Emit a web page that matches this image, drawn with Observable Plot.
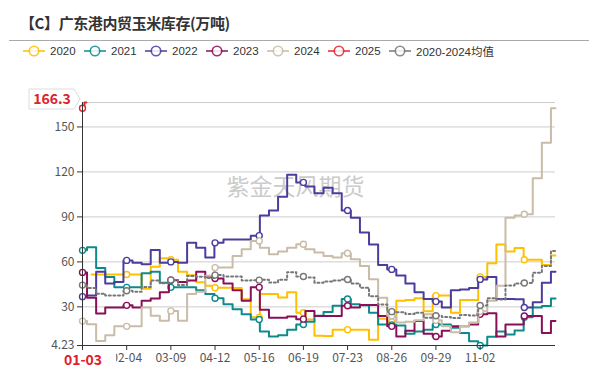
<!DOCTYPE html>
<html><head><meta charset="utf-8">
<script src="https://cdn.jsdelivr.net/npm/d3@7"></script>
<script src="https://cdn.jsdelivr.net/npm/@observablehq/plot@0.6"></script>
<style>
body{margin:0;background:#fff;}
#wrap{position:relative;width:589px;height:370px;overflow:hidden;font-family:"Microsoft YaHei","Noto Sans CJK SC","Noto Sans",sans-serif;}
#title{position:absolute;left:20px;top:12px;font-size:15px;font-weight:700;color:#333;letter-spacing:-0.4px;white-space:nowrap;line-height:22px;}
#rule{position:absolute;left:9px;top:40px;width:580px;height:1px;background:#aaa;}
.item{position:absolute;top:43px;height:16px;display:flex;align-items:center;font-size:11.5px;color:#333;white-space:nowrap;font-family:"Liberation Sans","Noto Sans CJK SC",sans-serif;}
.item svg{margin-right:5px;}
#chart{position:absolute;left:0;top:62px;}
</style></head>
<body><div id="wrap"><div id="title">【C】广东港内贸玉米库存(万吨)</div><div id="rule"></div><div id="legend"></div><div id="chart"></div></div>
<script>
const seriesNames = ["2020","2021","2022","2023","2024","2025","2020-2024均值"];
const seriesColors = ["#FFC000","#0F8A8C","#4B3D9D","#8A0F58","#C9BCA8","#E2262C","#777777"];
const xTickDays = [0,34,68,102,136,170,204,238,272,306];
const xTickLabels = ["01-03","02-04","03-09","04-12","05-16","06-19","07-23","08-26","09-29","11-02"];
const symbolDays = [0,34,68,102,136,170,204,238,272,306,340];
const yTicks = [4.23,30,60,90,120,150];
const yMin = 4.23, yMax = 166.3;
const weekDays = 7;

const v2020 = [null,51.6,51.6,51.6,51.6,51.6,51.6,42,56.8,62.5,61.4,53.4,51.1,46.4,44,42.7,42.7,42.5,35,23,38.6,38.6,36.3,39.8,26.1,21.6,10.7,10.5,14.8,14.8,14.8,14.8,8,22,20,34,34.5,35.7,27,37.5,37.5,26.1,34.5,34.5,50,59.1,71.6,67,69.3,61.4,61.4,58,64.3];
const v2021 = [67.7,69.7,56,50,43,43,43,52.5,53.5,46,43,43,43,41,38.6,35.7,31.8,28.4,25,21.6,13.6,10.2,11,14.8,18.2,20,24,26.6,30.7,35.2,31.8,31,26,18.2,18,17.5,12,13.5,14.8,18.2,18.2,16,12.5,7,4.23,10,13.6,11.5,14.3,23,29.5,30.5,35.5];
const v2022 = [36.8,37.5,53.4,45.5,46.5,61,59.5,58.5,68,59.5,60,59.5,72.7,69.5,63,72.7,75,75,75,77.5,90.9,94.3,103.4,118.1,113,110.2,105.7,109.5,105.7,94.3,89.5,79.6,71.6,58,55,51,45.5,39.8,35.2,33.5,29.6,41,41.5,42.5,48.3,50,35.2,35.2,35,29.6,33,46,53.4];
const v2023 = [53,36,25.5,29.5,29.5,31,29.5,34,35.5,39.8,47.7,46.5,47.5,53.4,50,48.9,45.5,41,34,43,28,22.7,22.7,23.5,21.8,27.3,23.9,23.9,23.9,30.7,29.5,31.2,31.2,23.9,17,10.2,14,20.5,12,10.2,14,17,17,18.2,25,25.7,10.2,18.2,18.2,23.9,23.9,12.5,20.5];
const v2024 = [20.5,18.4,7.3,11.1,17,17,17,29.5,24,20.7,27.3,20.7,38.5,40,50.7,56.2,56.2,64,68.5,74,69.5,65.1,66.9,69.5,71.8,68.5,66.2,64,62.9,65.8,61.8,57.3,48.4,36,24,19.5,20,21,25,21,17,13,17.3,19.5,27,34,44,89.5,91,91.8,115.8,139.5,162.5];
const v2025Days = [0,3];
const v2025 = [162.5,166.3];
const vAvg = [44.5,42.6,38.8,37.5,37.5,40.7,40.1,43.3,47.6,45.7,47.9,44.6,50.6,50.1,49.3,51.2,50.2,50.2,47.5,47.8,48.1,46.2,48.1,53.1,50.2,49.5,46.1,46.9,47.6,48.2,45.5,42.8,37.0,31.6,26.8,26.4,25.2,26.1,22.8,24.1,23.3,22.6,24.6,24.3,30.9,35.8,34.9,44.3,45.6,45.9,52.7,57.3,67.2];

// legend
const legend = document.getElementById("legend");
seriesNames.forEach((n,i)=>{
  const it = document.createElement("div");
  it.className = "item";
  it.style.left = (23 + 61*i) + "px";
  it.innerHTML = `<svg width="22" height="14"><line x1="0" x2="22" y1="7" y2="7" stroke="${seriesColors[i]}" stroke-width="2" opacity="0.75"/><circle cx="11" cy="7" r="4.7" fill="#fff" stroke="${seriesColors[i]}" stroke-width="1.6" opacity="0.85"/></svg><span>${n}</span>`;
  legend.appendChild(it);
});

const weekly = arr => arr.map((v,i)=>({day:i*weekDays, value:v}));
const series = [
  {data: weekly(v2020), vals: v2020},
  {data: weekly(v2021), vals: v2021},
  {data: weekly(v2022), vals: v2022},
  {data: weekly(v2023), vals: v2023},
  {data: weekly(v2024), vals: v2024},
  {data: v2025Days.map((d,i)=>({day:d, value:v2025[i]})), vals: null},
  {data: weekly(vAvg), vals: vAvg}
];

const marks = [
  Plot.ruleY([30,60,90,120,150,yMax], {stroke:"#cccccc", strokeWidth:1}),
  Plot.text(["紫金天风期货"], {text:d=>d, frameAnchor:"top-left", dx:213, dy:76, fill:"#cbcbcb", fontSize:23, textAnchor:"middle"})
];
series.forEach((s,i)=>{
  const isAvg = i === 6;
  marks.push(Plot.line(s.data, {x:"day", y:"value", stroke:seriesColors[i], strokeWidth:2, curve:"step",
    strokeDasharray: isAvg ? "2,2.6" : null}));
  let pts;
  if (s.vals) {
    pts = symbolDays.map(d=>({day:d, value:s.vals[Math.round(d/weekDays)]})).filter(p=>p.value!=null);
  } else {
    pts = [s.data[0]];
  }
  marks.push(Plot.dot(pts, {x:"day", y:"value", r:3, fill:"#fff", stroke:seriesColors[i], strokeWidth:1.4}));
});
marks.push(
  Plot.ruleX([0], {stroke:"#333", strokeWidth:1}),
  Plot.ruleY([yMin], {stroke:"#333", strokeWidth:1}),
  Plot.axisX({ticks:xTickDays, tickSize:5, tickPadding:3, tickFormat:d=> d===0 ? "" : xTickLabels[xTickDays.indexOf(d)], stroke:"#333", fill:"#555", fontSize:12}),
  Plot.axisY({ticks:yTicks, tickSize:5, tickPadding:3, tickFormat:d=> d===yMin ? "4.23" : String(d), stroke:"#333", fill:"#555", fontSize:12})
);

const chart = Plot.plot({
  width:589, height:308,
  marginLeft:82, marginRight:34, marginTop:40, marginBottom:25,
  x:{domain:[0,364], label:null},
  y:{domain:[yMin,yMax], label:null},
  style:{fontFamily:'"Microsoft YaHei","Noto Sans CJK SC","Noto Sans",sans-serif', fontSize:"12px", background:"transparent", overflow:"visible"},
  marks
});
document.getElementById("chart").appendChild(chart);

// axis-pointer style labels
const svg = d3.select(chart);
const xS = chart.scale("x"), yS = chart.scale("y");
const x0 = xS.apply(0), yTop = yS.apply(yMax), yBot = yS.apply(yMin);
const yc = yTop - 3;
svg.append("path")
  .attr("d", `M29,${yc-10}H74L80,${yc}L74,${yc+10}H29Z`)
  .attr("fill","#fff").attr("stroke","#dcdcdc");
svg.append("text").attr("x",52).attr("y",yc).attr("dy","0.36em").attr("text-anchor","middle")
  .attr("fill","#E0202A").attr("font-weight",700).attr("font-size",14).text(String(yMax));
svg.append("rect").attr("x",x0-23).attr("y",yBot+7).attr("width",57).attr("height",18).attr("fill","#fff");
svg.append("text").attr("x",x0+1).attr("y",yBot+15).attr("dy","0.36em").attr("text-anchor","middle")
  .attr("fill","#E0202A").attr("font-weight",700).attr("font-size",14).text(xTickLabels[0]);
</script>
</body></html>
